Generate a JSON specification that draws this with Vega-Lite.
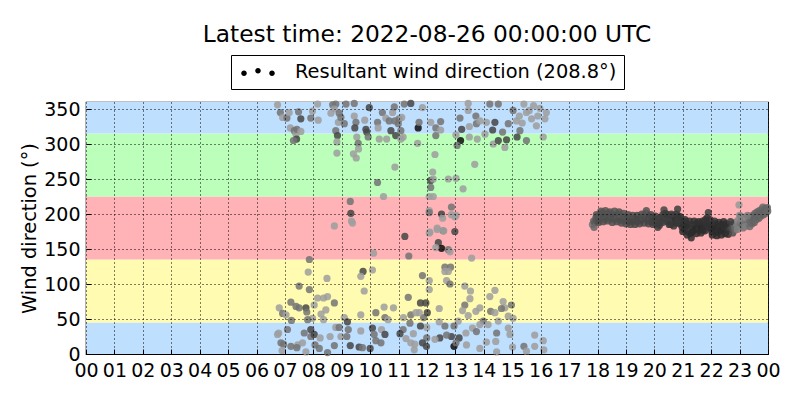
{
"$schema": "https://vega.github.io/schema/vega-lite/v6.json",
"width": 682, "height": 252,
"autosize": "none",
"padding": {"left": 86, "top": 102, "right": 32, "bottom": 46},
"background": "white",
"title": {"text": "Latest time: 2022-08-26 00:00:00 UTC", "fontSize": 23.3, "fontWeight": "normal", "font": "DejaVu Sans", "color": "black", "anchor": "middle", "frame": "group", "offset": 7},
"config": {
  "font": "DejaVu Sans",
  "view": {"stroke": "black", "strokeWidth": 1.2},
  "axis": {"grid": true, "gridColor": "black", "gridDash": [1, 3], "gridOpacity": 1, "gridWidth": 1, "domain": false, "ticks": true, "tickColor": "black", "tickSize": -5, "tickWidth": 1, "labelFontSize": 19, "labelColor": "black", "labelPadding": 11, "labelFlush": false, "labelOverlap": false, "labelBound": false, "titleFontSize": 19.4, "titleFontWeight": "normal", "titleColor": "black", "zindex": 1}
},
"layer": [
{
 "data": {"values": [{"lo": 0, "hi": 45, "zone": "N"}, {"lo": 45, "hi": 135, "zone": "E"}, {"lo": 135, "hi": 225, "zone": "S"}, {"lo": 225, "hi": 315, "zone": "W"}, {"lo": 315, "hi": 360, "zone": "N"}]},
 "mark": {"type": "rect"},
 "encoding": {
   "y": {"field": "lo", "type": "quantitative", "scale": {"domain": [0, 360], "nice": false, "zero": false}, "axis": {"values": [0,50,100,150,200,250,300,350], "title": "Wind direction (°)", "zindex": 1}},
   "y2": {"field": "hi"},
   "fill": {"field": "zone", "type": "nominal", "scale": {"domain": ["N", "E", "S", "W"], "range": ["#bfdfff", "#fffbb0", "#ffb3b6", "#bbffbb"]}, "legend": null}
 }
},
{
 "data": {"values": [
{"t":6.74,"d":356,"g":0.62},{"t":6.84,"d":345,"g":0.45},{"t":6.92,"d":338,"g":0.62},{"t":7.07,"d":337,"g":0.45},{"t":7.15,"d":345,"g":0.62},{"t":7.19,"d":323,"g":0.62},{"t":7.33,"d":319,"g":0.45},{"t":7.39,"d":314,"g":0.62},{"t":7.42,"d":321,"g":0.45},{"t":7.56,"d":318,"g":0.62},{"t":7.41,"d":307,"g":0.27},{"t":7.30,"d":305,"g":0.45},{"t":7.48,"d":346,"g":0.45},{"t":7.56,"d":336,"g":0.27},{"t":7.91,"d":337,"g":0.45},{"t":7.97,"d":347,"g":0.62},{"t":8.17,"d":334,"g":0.62},{"t":8.15,"d":357,"g":0.62},{"t":8.68,"d":356,"g":0.45},{"t":8.79,"d":357,"g":0.45},{"t":8.62,"d":344,"g":0.62},{"t":8.74,"d":350,"g":0.62},{"t":8.91,"d":344,"g":0.45},{"t":8.88,"d":331,"g":0.62},{"t":8.97,"d":338,"g":0.45},{"t":9.09,"d":329,"g":0.45},{"t":8.79,"d":319,"g":0.45},{"t":8.85,"d":312,"g":0.27},{"t":8.83,"d":303,"g":0.62},{"t":8.83,"d":287,"g":0.62},{"t":9.15,"d":357,"g":0.45},{"t":9.44,"d":358,"g":0.45},{"t":9.44,"d":340,"g":0.62},{"t":9.50,"d":331,"g":0.45},{"t":9.46,"d":323,"g":0.27},{"t":9.53,"d":310,"g":0.62},{"t":9.58,"d":301,"g":0.45},{"t":9.59,"d":293,"g":0.62},{"t":9.41,"d":286,"g":0.62},{"t":9.51,"d":280,"g":0.62},{"t":9.81,"d":334,"g":0.62},{"t":9.85,"d":321,"g":0.27},{"t":9.88,"d":317,"g":0.27},{"t":9.93,"d":310,"g":0.45},{"t":9.97,"d":352,"g":0.27},{"t":10.26,"d":331,"g":0.45},{"t":10.28,"d":323,"g":0.62},{"t":10.32,"d":307,"g":0.62},{"t":10.43,"d":345,"g":0.45},{"t":10.55,"d":337,"g":0.62},{"t":10.67,"d":333,"g":0.45},{"t":10.73,"d":319,"g":0.27},{"t":10.79,"d":345,"g":0.62},{"t":10.85,"d":353,"g":0.45},{"t":10.90,"d":312,"g":0.27},{"t":11.02,"d":336,"g":0.45},{"t":11.08,"d":319,"g":0.45},{"t":11.08,"d":307,"g":0.62},{"t":11.20,"d":357,"g":0.45},{"t":11.43,"d":358,"g":0.27},{"t":11.69,"d":323,"g":0.05},{"t":11.72,"d":331,"g":0.45},{"t":11.84,"d":352,"g":0.62},{"t":11.67,"d":301,"g":0.62},{"t":12.13,"d":331,"g":0.62},{"t":10.87,"d":267,"g":0.62},{"t":10.26,"d":245,"g":0.45},{"t":10.47,"d":225,"g":0.62},{"t":12.13,"d":248,"g":0.27},{"t":12.13,"d":238,"g":0.45},{"t":12.08,"d":225,"g":0.62},{"t":12.08,"d":205,"g":0.62},{"t":9.30,"d":218,"g":0.45},{"t":9.32,"d":201,"g":0.27},{"t":9.34,"d":190,"g":0.62},{"t":9.38,"d":187,"g":0.62},{"t":8.74,"d":183,"g":0.62},
{"t":10.87,"d":333,"g":0.45},{"t":10.58,"d":307,"g":0.62},{"t":10.99,"d":329,"g":0.45},{"t":11.11,"d":338,"g":0.62},{"t":11.16,"d":310,"g":0.62},{"t":12.48,"d":332,"g":0.45},{"t":12.31,"d":323,"g":0.45},{"t":12.48,"d":320,"g":0.62},{"t":12.31,"d":312,"g":0.45},{"t":12.28,"d":285,"g":0.62},{"t":12.20,"d":260,"g":0.62},{"t":12.22,"d":250,"g":0.62},{"t":12.75,"d":250,"g":0.62},{"t":13.02,"d":251,"g":0.62},{"t":13.27,"d":236,"g":0.62},{"t":12.22,"d":225,"g":0.62},{"t":12.08,"d":202,"g":0.45},{"t":12.51,"d":200,"g":0.27},{"t":12.86,"d":210,"g":0.45},{"t":12.86,"d":199,"g":0.62},{"t":13.02,"d":198,"g":0.62},
{"t":13.45,"d":358,"g":0.62},{"t":13.45,"d":348,"g":0.62},{"t":13.72,"d":340,"g":0.45},{"t":13.16,"d":337,"g":0.45},{"t":13.22,"d":321,"g":0.27},{"t":13.18,"d":305,"g":0.05},{"t":13.06,"d":298,"g":0.45},{"t":13.49,"d":325,"g":0.62},{"t":13.74,"d":329,"g":0.45},{"t":13.86,"d":333,"g":0.62},{"t":13.77,"d":307,"g":0.62},{"t":13.49,"d":310,"g":0.62},{"t":13.02,"d":313,"g":0.62},{"t":13.68,"d":271,"g":0.62},{"t":14.09,"d":331,"g":0.62},{"t":14.39,"d":331,"g":0.27},{"t":14.31,"d":320,"g":0.27},{"t":14.04,"d":314,"g":0.62},{"t":14.33,"d":300,"g":0.62},{"t":14.51,"d":305,"g":0.27},{"t":14.66,"d":317,"g":0.45},{"t":14.80,"d":306,"g":0.27},{"t":14.74,"d":295,"g":0.62},{"t":14.21,"d":357,"g":0.45},{"t":14.51,"d":357,"g":0.45},{"t":15.03,"d":348,"g":0.45},{"t":15.15,"d":333,"g":0.62},{"t":15.27,"d":319,"g":0.45},{"t":15.17,"d":310,"g":0.27},{"t":15.50,"d":345,"g":0.62},{"t":15.68,"d":336,"g":0.62},{"t":15.85,"d":326,"g":0.62},{"t":15.41,"d":357,"g":0.62},{"t":15.97,"d":351,"g":0.62},{"t":16.15,"d":336,"g":0.62},{"t":16.09,"d":310,"g":0.62},{"t":15.50,"d":305,"g":0.45},{"t":14.86,"d":329,"g":0.45},{"t":15.25,"d":340,"g":0.62},{"t":15.35,"d":330,"g":0.62},{"t":15.60,"d":348,"g":0.62},{"t":15.90,"d":340,"g":0.62},{"t":15.75,"d":355,"g":0.62},{"t":16.20,"d":345,"g":0.62},
{"t":12.55,"d":194,"g":0.62},{"t":12.98,"d":196,"g":0.62},{"t":12.36,"d":180,"g":0.62},{"t":12.57,"d":176,"g":0.45},{"t":12.08,"d":173,"g":0.62},
{"t":10.12,"d":144,"g":0.62},{"t":7.86,"d":135,"g":0.45},{"t":7.82,"d":117,"g":0.62},{"t":8.48,"d":108,"g":0.62},{"t":7.50,"d":97,"g":0.45},{"t":7.86,"d":92,"g":0.45},{"t":9.75,"d":118,"g":0.27},{"t":9.67,"d":111,"g":0.62},{"t":10.08,"d":120,"g":0.62},{"t":9.79,"d":90,"g":0.62},{"t":7.21,"d":74,"g":0.45},{"t":7.39,"d":68,"g":0.45},{"t":7.50,"d":66,"g":0.45},{"t":6.80,"d":66,"g":0.62},{"t":6.92,"d":58,"g":0.45},{"t":7.74,"d":66,"g":0.27},{"t":7.77,"d":60,"g":0.45},{"t":8.15,"d":80,"g":0.62},{"t":8.36,"d":80,"g":0.62},{"t":8.50,"d":82,"g":0.62},{"t":8.03,"d":70,"g":0.62},{"t":8.74,"d":73,"g":0.45},{"t":8.44,"d":63,"g":0.62},{"t":8.27,"d":57,"g":0.62},{"t":8.36,"d":49,"g":0.62},{"t":7.97,"d":51,"g":0.62},{"t":7.80,"d":49,"g":0.45},{"t":7.23,"d":48,"g":0.45},{"t":7.04,"d":56,"g":0.62},{"t":9.09,"d":52,"g":0.62},{"t":9.20,"d":46,"g":0.27},{"t":9.67,"d":56,"g":0.62},{"t":10.20,"d":59,"g":0.45},{"t":10.49,"d":67,"g":0.62},{"t":10.82,"d":66,"g":0.62},{"t":10.52,"d":52,"g":0.45},{"t":10.63,"d":49,"g":0.62},{"t":11.17,"d":52,"g":0.62},{"t":11.43,"d":56,"g":0.45},{"t":11.61,"d":59,"g":0.62},{"t":11.88,"d":52,"g":0.45},{"t":11.99,"d":38,"g":0.62},{"t":6.74,"d":28,"g":0.62},{"t":6.86,"d":16,"g":0.45},{"t":7.09,"d":35,"g":0.45},{"t":7.21,"d":11,"g":0.45},{"t":7.45,"d":13,"g":0.62},{"t":7.62,"d":16,"g":0.62},{"t":7.68,"d":30,"g":0.45},{"t":7.91,"d":35,"g":0.27},{"t":7.91,"d":25,"g":0.45},{"t":8.03,"d":28,"g":0.27},{"t":8.06,"d":13,"g":0.45},{"t":8.24,"d":23,"g":0.62},{"t":8.21,"d":8,"g":0.45},{"t":8.59,"d":25,"g":0.62},{"t":8.79,"d":38,"g":0.62},{"t":8.91,"d":38,"g":0.45},{"t":8.97,"d":25,"g":0.62},{"t":8.74,"d":12,"g":0.45},{"t":9.18,"d":25,"g":0.45},{"t":9.23,"d":35,"g":0.45},{"t":9.30,"d":12,"g":0.27},{"t":9.61,"d":10,"g":0.27},{"t":9.67,"d":33,"g":0.62},{"t":9.73,"d":9,"g":0.45},{"t":10.00,"d":8,"g":0.27},{"t":10.08,"d":37,"g":0.27},{"t":10.14,"d":28,"g":0.45},{"t":10.20,"d":19,"g":0.45},{"t":10.38,"d":16,"g":0.45},{"t":10.40,"d":35,"g":0.62},{"t":10.52,"d":28,"g":0.27},{"t":11.26,"d":22,"g":0.62},{"t":11.43,"d":16,"g":0.62},{"t":11.99,"d":23,"g":0.45},{"t":11.55,"d":6,"g":0.62},{"t":8.50,"d":2,"g":0.45},{"t":7.74,"d":3,"g":0.62},{"t":7.42,"d":9,"g":0.45},{"t":6.78,"d":30,"g":0.62},{"t":6.95,"d":14,"g":0.45},{"t":6.90,"d":5,"g":0.62},
{"t":11.22,"d":168,"g":0.27},{"t":11.36,"d":140,"g":0.45},{"t":12.10,"d":174,"g":0.62},{"t":12.36,"d":178,"g":0.62},{"t":12.59,"d":176,"g":0.62},{"t":12.98,"d":175,"g":0.27},{"t":12.40,"d":159,"g":0.27},{"t":12.51,"d":151,"g":0.05},{"t":12.31,"d":152,"g":0.62},{"t":12.75,"d":149,"g":0.45},{"t":12.81,"d":146,"g":0.62},{"t":13.57,"d":137,"g":0.62},{"t":12.63,"d":124,"g":0.45},{"t":12.83,"d":124,"g":0.45},{"t":12.63,"d":118,"g":0.62},{"t":12.75,"d":118,"g":0.62},{"t":11.84,"d":112,"g":0.45},{"t":12.08,"d":105,"g":0.62},{"t":12.69,"d":105,"g":0.62},{"t":12.81,"d":100,"g":0.45},{"t":12.08,"d":92,"g":0.62},{"t":11.34,"d":81,"g":0.45},{"t":13.33,"d":97,"g":0.62},{"t":13.53,"d":90,"g":0.62},{"t":14.39,"d":91,"g":0.62},{"t":14.21,"d":82,"g":0.62},{"t":13.51,"d":79,"g":0.62},{"t":13.33,"d":70,"g":0.45},{"t":13.86,"d":66,"g":0.62},{"t":13.25,"d":62,"g":0.62},{"t":13.45,"d":55,"g":0.62},{"t":13.72,"d":61,"g":0.62},{"t":12.43,"d":65,"g":0.62},{"t":11.77,"d":73,"g":0.27},{"t":11.96,"d":73,"g":0.27},{"t":12.01,"d":59,"g":0.27},{"t":11.73,"d":59,"g":0.62},{"t":14.24,"d":61,"g":0.45},{"t":14.39,"d":59,"g":0.62},{"t":14.68,"d":75,"g":0.62},{"t":14.74,"d":66,"g":0.62},{"t":14.97,"d":70,"g":0.45},{"t":14.62,"d":65,"g":0.45},{"t":14.86,"d":54,"g":0.62},{"t":15.03,"d":51,"g":0.62},{"t":14.51,"d":47,"g":0.62},{"t":13.98,"d":47,"g":0.45},{"t":14.15,"d":42,"g":0.62},{"t":13.86,"d":42,"g":0.62},{"t":13.60,"d":37,"g":0.62},{"t":13.74,"d":32,"g":0.45},{"t":13.37,"d":30,"g":0.62},{"t":13.10,"d":47,"g":0.62},{"t":12.95,"d":40,"g":0.45},{"t":12.63,"d":40,"g":0.45},{"t":12.43,"d":46,"g":0.62},{"t":12.86,"d":25,"g":0.27},{"t":13.13,"d":23,"g":0.27},{"t":12.95,"d":11,"g":0.05},{"t":13.02,"d":16,"g":0.45},{"t":12.69,"d":27,"g":0.45},{"t":12.45,"d":23,"g":0.27},{"t":12.28,"d":21,"g":0.62},{"t":11.98,"d":11,"g":0.27},{"t":11.84,"d":16,"g":0.27},{"t":11.77,"d":40,"g":0.27},{"t":11.40,"d":44,"g":0.45},{"t":11.16,"d":35,"g":0.45},{"t":11.52,"d":29,"g":0.62},{"t":11.05,"d":29,"g":0.27},{"t":11.57,"d":14,"g":0.62},{"t":13.39,"d":13,"g":0.62},{"t":13.86,"d":8,"g":0.62},{"t":14.09,"d":17,"g":0.62},{"t":14.42,"d":18,"g":0.62},{"t":14.45,"d":30,"g":0.45},{"t":14.86,"d":37,"g":0.62},{"t":14.92,"d":28,"g":0.62},{"t":15.01,"d":10,"g":0.62},{"t":15.41,"d":11,"g":0.45},{"t":15.79,"d":27,"g":0.62},{"t":15.79,"d":11,"g":0.62},{"t":16.09,"d":19,"g":0.62},{"t":16.11,"d":6,"g":0.62},{"t":15.50,"d":4,"g":0.62},{"t":14.45,"d":3,"g":0.62},
{"t":17.82,"d":185,"g":0.45},{"t":17.86,"d":190,"g":0.40},{"t":17.90,"d":188,"g":0.35},{"t":17.94,"d":194,"g":0.35},{"t":17.98,"d":191,"g":0.32},{"t":18.02,"d":197,"g":0.30},{"t":18.06,"d":193,"g":0.33},{"t":18.10,"d":199,"g":0.30},{"t":18.14,"d":195,"g":0.35},{"t":18.18,"d":202,"g":0.32},{"t":18.22,"d":196,"g":0.30},{"t":18.26,"d":192,"g":0.34},{"t":18.30,"d":199,"g":0.30},{"t":18.34,"d":195,"g":0.32},{"t":18.38,"d":201,"g":0.30},{"t":18.42,"d":194,"g":0.33},{"t":18.46,"d":197,"g":0.30},{"t":18.50,"d":193,"g":0.35},{"t":18.54,"d":199,"g":0.31},{"t":18.58,"d":196,"g":0.30},{"t":18.62,"d":192,"g":0.33},{"t":18.66,"d":198,"g":0.30},{"t":18.70,"d":194,"g":0.34},{"t":18.74,"d":200,"g":0.30},{"t":18.78,"d":195,"g":0.32},{"t":18.82,"d":191,"g":0.30},{"t":18.86,"d":197,"g":0.35},{"t":18.90,"d":193,"g":0.30},{"t":18.94,"d":196,"g":0.32},{"t":18.98,"d":190,"g":0.30},{"t":19.02,"d":194,"g":0.33},{"t":19.06,"d":191,"g":0.30},{"t":19.10,"d":195,"g":0.32},{"t":19.14,"d":189,"g":0.28},{"t":19.18,"d":193,"g":0.30},{"t":19.22,"d":190,"g":0.28},{"t":19.26,"d":194,"g":0.30},{"t":19.30,"d":191,"g":0.27},{"t":19.34,"d":193,"g":0.28},{"t":19.38,"d":189,"g":0.30},{"t":19.42,"d":192,"g":0.27},{"t":19.46,"d":190,"g":0.29},{"t":19.50,"d":194,"g":0.30},{"t":19.54,"d":191,"g":0.27},{"t":19.58,"d":196,"g":0.35},{"t":19.62,"d":193,"g":0.30},{"t":19.66,"d":197,"g":0.28},{"t":19.70,"d":201,"g":0.35},{"t":19.74,"d":194,"g":0.30},{"t":19.78,"d":190,"g":0.28},{"t":19.82,"d":196,"g":0.27},{"t":19.86,"d":193,"g":0.30},{"t":19.90,"d":189,"g":0.27},{"t":19.94,"d":195,"g":0.28},{"t":19.98,"d":191,"g":0.25},{"t":20.02,"d":188,"g":0.27},{"t":20.06,"d":193,"g":0.25},{"t":20.10,"d":186,"g":0.24},{"t":20.14,"d":190,"g":0.26},{"t":20.18,"d":184,"g":0.23},{"t":20.22,"d":189,"g":0.25},{"t":20.26,"d":195,"g":0.28},{"t":20.30,"d":199,"g":0.25},{"t":20.34,"d":206,"g":0.27},{"t":20.38,"d":201,"g":0.25},{"t":20.42,"d":193,"g":0.22},{"t":20.46,"d":189,"g":0.24},{"t":20.50,"d":196,"g":0.22},{"t":20.54,"d":191,"g":0.25},{"t":20.58,"d":185,"g":0.22},{"t":20.62,"d":194,"g":0.24},{"t":20.66,"d":198,"g":0.22},{"t":20.70,"d":188,"g":0.25},{"t":20.74,"d":193,"g":0.20},{"t":20.78,"d":200,"g":0.22},{"t":20.82,"d":207,"g":0.24},{"t":20.86,"d":197,"g":0.22},{"t":20.90,"d":186,"g":0.20},{"t":20.94,"d":190,"g":0.22},{"t":20.98,"d":181,"g":0.18},{"t":21.02,"d":186,"g":0.20},{"t":21.06,"d":178,"g":0.18},{"t":21.10,"d":189,"g":0.22},{"t":21.14,"d":183,"g":0.18},{"t":21.18,"d":175,"g":0.20},{"t":21.22,"d":185,"g":0.18},{"t":21.26,"d":172,"g":0.20},{"t":21.30,"d":166,"g":0.18},{"t":21.34,"d":180,"g":0.20},{"t":21.38,"d":176,"g":0.18},{"t":21.42,"d":184,"g":0.20},{"t":21.46,"d":179,"g":0.16},{"t":21.50,"d":187,"g":0.20},{"t":21.54,"d":182,"g":0.18},{"t":21.58,"d":177,"g":0.20},{"t":21.62,"d":185,"g":0.18},{"t":21.66,"d":180,"g":0.16},{"t":21.70,"d":190,"g":0.20},{"t":21.74,"d":183,"g":0.18},{"t":21.78,"d":176,"g":0.17},{"t":21.82,"d":188,"g":0.20},{"t":21.86,"d":195,"g":0.22},{"t":21.90,"d":202,"g":0.24},{"t":21.94,"d":186,"g":0.18},{"t":21.98,"d":180,"g":0.17},{"t":22.02,"d":175,"g":0.16},{"t":22.06,"d":183,"g":0.18},{"t":22.10,"d":178,"g":0.17},{"t":22.14,"d":186,"g":0.19},{"t":22.18,"d":179,"g":0.16},{"t":22.22,"d":174,"g":0.18},{"t":22.26,"d":184,"g":0.17},{"t":22.30,"d":180,"g":0.19},{"t":22.34,"d":176,"g":0.16},{"t":22.38,"d":185,"g":0.18},{"t":22.42,"d":178,"g":0.17},{"t":22.46,"d":182,"g":0.19},{"t":22.50,"d":172,"g":0.16},{"t":22.54,"d":181,"g":0.18},{"t":22.58,"d":177,"g":0.20},{"t":22.62,"d":185,"g":0.22},{"t":22.66,"d":180,"g":0.25},{"t":22.70,"d":183,"g":0.28},{"t":22.74,"d":178,"g":0.30},{"t":22.78,"d":186,"g":0.35},{"t":22.82,"d":181,"g":0.40},{"t":22.86,"d":188,"g":0.45},{"t":22.90,"d":183,"g":0.50},{"t":22.94,"d":191,"g":0.55},{"t":22.98,"d":213,"g":0.60},{"t":23.00,"d":198,"g":0.55},{"t":23.02,"d":186,"g":0.45},{"t":23.06,"d":190,"g":0.50},{"t":23.10,"d":184,"g":0.40},{"t":23.14,"d":193,"g":0.55},{"t":23.18,"d":188,"g":0.45},{"t":23.22,"d":195,"g":0.55},{"t":23.26,"d":186,"g":0.42},{"t":23.30,"d":191,"g":0.50},{"t":23.34,"d":188,"g":0.40},{"t":23.38,"d":196,"g":0.45},{"t":23.42,"d":192,"g":0.40},{"t":23.46,"d":198,"g":0.42},{"t":23.50,"d":194,"g":0.38},{"t":23.54,"d":201,"g":0.40},{"t":23.58,"d":197,"g":0.38},{"t":23.62,"d":203,"g":0.40},{"t":23.66,"d":199,"g":0.38},{"t":23.70,"d":205,"g":0.40},{"t":23.74,"d":202,"g":0.38},{"t":23.78,"d":207,"g":0.40},{"t":23.82,"d":210,"g":0.42},{"t":23.86,"d":204,"g":0.38},{"t":23.90,"d":208,"g":0.40},{"t":23.94,"d":206,"g":0.38},{"t":23.98,"d":209,"g":0.40},
{"t":17.88,"d":181,"g":0.40},{"t":17.96,"d":199,"g":0.33},{"t":18.04,"d":188,"g":0.30},{"t":18.12,"d":204,"g":0.32},{"t":18.20,"d":189,"g":0.30},{"t":18.28,"d":205,"g":0.33},{"t":18.36,"d":190,"g":0.30},{"t":18.44,"d":203,"g":0.32},{"t":18.52,"d":188,"g":0.30},{"t":18.60,"d":204,"g":0.33},{"t":18.68,"d":189,"g":0.30},{"t":18.76,"d":203,"g":0.32},{"t":18.84,"d":187,"g":0.30},{"t":18.92,"d":201,"g":0.32},{"t":19.00,"d":186,"g":0.30},{"t":19.08,"d":199,"g":0.30},{"t":19.16,"d":185,"g":0.28},{"t":19.24,"d":198,"g":0.30},{"t":19.32,"d":185,"g":0.27},{"t":19.40,"d":198,"g":0.28},{"t":19.48,"d":186,"g":0.28},{"t":19.56,"d":200,"g":0.30},{"t":19.64,"d":187,"g":0.28},{"t":19.72,"d":205,"g":0.33},{"t":19.80,"d":186,"g":0.27},{"t":19.88,"d":199,"g":0.28},{"t":19.96,"d":185,"g":0.26},{"t":20.04,"d":197,"g":0.25},{"t":20.12,"d":181,"g":0.24},{"t":20.20,"d":194,"g":0.25},{"t":20.28,"d":188,"g":0.24},{"t":20.36,"d":196,"g":0.25},{"t":20.44,"d":200,"g":0.23},{"t":20.52,"d":185,"g":0.22},{"t":20.60,"d":200,"g":0.24},{"t":20.68,"d":183,"g":0.22},{"t":20.76,"d":187,"g":0.21},{"t":20.84,"d":192,"g":0.22},{"t":20.92,"d":196,"g":0.21},{"t":21.00,"d":175,"g":0.18},{"t":21.08,"d":192,"g":0.20},{"t":21.16,"d":170,"g":0.18},{"t":21.24,"d":190,"g":0.20},{"t":21.32,"d":174,"g":0.17},{"t":21.40,"d":190,"g":0.19},{"t":21.48,"d":172,"g":0.17},{"t":21.56,"d":189,"g":0.19},{"t":21.64,"d":173,"g":0.17},{"t":21.72,"d":177,"g":0.18},{"t":21.80,"d":192,"g":0.20},{"t":21.88,"d":182,"g":0.19},{"t":21.96,"d":192,"g":0.20},{"t":22.04,"d":170,"g":0.17},{"t":22.12,"d":190,"g":0.19},{"t":22.20,"d":169,"g":0.16},{"t":22.28,"d":188,"g":0.18},{"t":22.36,"d":170,"g":0.17},{"t":22.44,"d":189,"g":0.18},{"t":22.52,"d":186,"g":0.18},{"t":22.60,"d":171,"g":0.19},{"t":22.68,"d":189,"g":0.24},{"t":22.76,"d":173,"g":0.30},{"t":22.84,"d":177,"g":0.40},{"t":22.92,"d":178,"g":0.50},{"t":23.04,"d":197,"g":0.50},{"t":23.12,"d":180,"g":0.45},{"t":23.20,"d":182,"g":0.50},{"t":23.28,"d":198,"g":0.48},{"t":23.36,"d":182,"g":0.42},{"t":23.44,"d":186,"g":0.40},{"t":23.52,"d":188,"g":0.38},{"t":23.60,"d":192,"g":0.40},{"t":23.68,"d":194,"g":0.38},{"t":23.76,"d":197,"g":0.40},{"t":23.84,"d":199,"g":0.38},{"t":23.92,"d":201,"g":0.40},{"t":23.99,"d":204,"g":0.40}
 ]},
 "mark": {"type": "circle", "size": 52, "opacity": 0.85},
 "encoding": {
   "x": {"field": "t", "type": "quantitative", "scale": {"domain": [0, 24], "nice": false, "zero": false}, "axis": {"values": [0,1,2,3,4,5,6,7,8,9,10,11,12,13,14,15,16,17,18,19,20,21,22,23,24], "labelExpr": "datum.value == 24 ? '00' : (datum.value < 10 ? '0' + datum.value : '' + datum.value)", "title": null, "zindex": 1, "labelPadding": 12}},
   "y": {"field": "d", "type": "quantitative", "scale": {"domain": [0, 360], "nice": false, "zero": false}, "axis": {"values": [0,50,100,150,200,250,300,350], "title": "Wind direction (°)", "zindex": 1}},
   "color": {"field": "g", "type": "quantitative", "scale": {"domain": [0, 1], "range": ["#000000", "#ffffff"], "interpolate": "rgb"}, "legend": null}
 }
},
{
 "data": {"values": []},
 "mark": {"type": "point", "filled": true, "color": "black", "opacity": 1},
 "encoding": {
   "shape": {"datum": "Resultant wind direction (208.8°)", "type": "nominal",
     "scale": {"range": ["M-0.68,0.13a0.28,0.28 0 1,0 0.56,0a0.28,0.28 0 1,0 -0.56,0ZM0.72,-0.13a0.28,0.28 0 1,0 0.56,0a0.28,0.28 0 1,0 -0.56,0ZM2.12,0.13a0.28,0.28 0 1,0 0.56,0a0.28,0.28 0 1,0 -0.56,0Z"]},
     "legend": {"title": null, "orient": "none", "legendX": 145, "legendY": -47, "strokeColor": "black", "fillColor": "white", "padding": 7, "cornerRadius": 0, "symbolSize": 400, "symbolFillColor": "black", "symbolStrokeColor": "black", "symbolStrokeWidth": 0, "symbolOpacity": 1, "labelFont": "DejaVu Sans", "labelFontSize": 19.4, "labelColor": "black", "labelOffset": 37, "labelLimit": 600}}
 }
}
]
}
